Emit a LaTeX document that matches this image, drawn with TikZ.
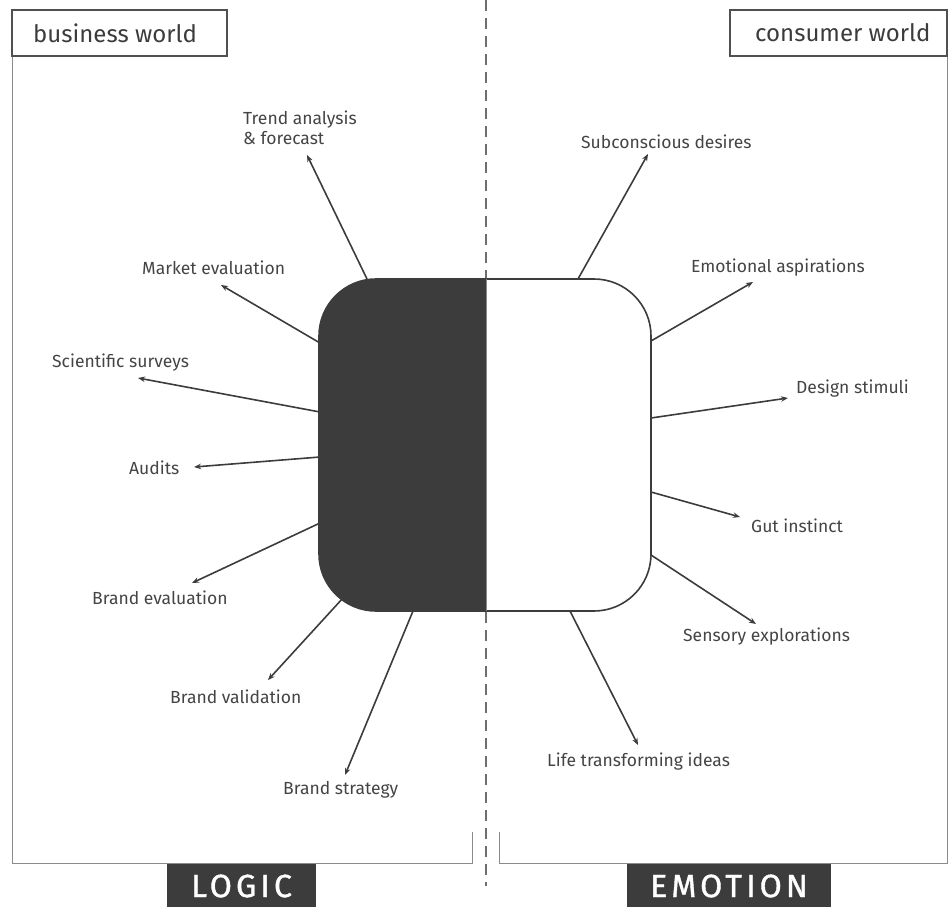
\documentclass[tikz,border=0pt]{standalone}
\usepackage{fontspec}
\setmainfont{Fira Sans}
\newfontfamily\spacedfont[LetterSpace=13,FakeBold=1.2]{Fira Sans}
\usetikzlibrary{arrows.meta}
\definecolor{darkfill}{HTML}{3C3C3C}
\definecolor{labelgray}{HTML}{444444}
\definecolor{framegray}{HTML}{8A8A8A}
\tikzset{
  lbl/.style={anchor=west, inner sep=0pt, text=labelgray, font=\fontsize{17.5}{21}\selectfont, align=left},
  ray/.style={draw=darkfill, line width=1.6pt, -{Stealth[length=7pt,width=5.5pt]}},
  worldbox/.style={draw=darkfill!90, line width=2pt, fill=white, inner sep=0pt, text=darkfill},
  worldtext/.style={anchor=west, inner sep=0pt, text=darkfill, font=\fontsize{24}{28}\selectfont},
  footbox/.style={fill=darkfill, text=white, inner sep=0pt, font=\spacedfont\fontsize{32}{36}\selectfont},
  framel/.style={draw=framegray, line width=1pt},
}
\begin{document}
\begin{tikzpicture}[x=1pt,y=-1pt]
\useasboundingbox (0,0) rectangle (950,907);
% frame
\draw[framel] (12,56) -- (12,863) -- (472,863) -- (472,832);
\draw[framel] (499,832) -- (499,863) -- (947,863) -- (947,56);
% dashed divider
\draw[framegray!80!black, line width=1.5pt, dash pattern=on 11pt off 7pt] (486,0) -- (486,886);
% world boxes
\node[worldbox, minimum width=215pt, minimum height=46pt] (bw) at (119.5,33) {};
\node[worldtext] (bwt) at (33,33) {business world};
\node[worldbox, minimum width=217pt, minimum height=46pt] (cw) at (838.5,33) {};
\node[worldtext] (cwt) at (755,33) {consumer world};
% footer boxes
\node[footbox, minimum width=149pt, minimum height=44pt] (logic) at (241.5,886) {LOGIC};
\node[footbox, minimum width=204pt, minimum height=44pt] (emotion) at (729,886) {EMOTION};
% centre shape
\begin{scope}
\clip[rounded corners=57pt] (319,279) rectangle (651,611);
\fill[white] (319,279) rectangle (651,611);
\fill[darkfill] (319,279) rectangle (486,611);
\end{scope}
\draw[darkfill, line width=1.6pt, rounded corners=57pt] (319,279) rectangle (651,611);
\draw[framegray, line width=0.6pt] (486,279) -- (486,611);
% labels
\node[lbl] (t1) at (243,128) {Trend analysis\\[-1pt]\& forecast};
\node[lbl] (t2) at (142,268) {Market evaluation};
\node[lbl] (t3) at (52,363) {Scientific surveys};
\node[lbl] (t4) at (129,468) {Audits};
\node[lbl] (t5) at (92,598) {Brand evaluation};
\node[lbl] (t6) at (170,697) {Brand validation};
\node[lbl] (t7) at (283,790) {Brand strategy};
\node[lbl] (r1) at (581,142) {Subconscious desires};
\node[lbl] (r2) at (691,268) {Emotional aspirations};
\node[lbl] (r3) at (796,389) {Design stimuli};
\node[lbl] (r4) at (751,526) {Gut instinct};
\node[lbl] (r5) at (683,637) {Sensory explorations};
\node[lbl] (r6) at (547,762) {Life transforming ideas};
% arrow coordinates
\coordinate (s1) at (367,279); \coordinate (e1) at (307,155);
\coordinate (s2) at (320,343); \coordinate (e2) at (221,285);
\coordinate (s3) at (320,412); \coordinate (e3) at (138,378);
\coordinate (s4) at (320,457); \coordinate (e4) at (194,467);
\coordinate (s5) at (320,523); \coordinate (e5) at (192,583);
\coordinate (s6) at (343,598); \coordinate (e6) at (268,680);
\coordinate (s7) at (413,611); \coordinate (e7) at (345,775);
\coordinate (q1) at (578,279); \coordinate (f1) at (648,154);
\coordinate (q2) at (651,341); \coordinate (f2) at (753,282);
\coordinate (q3) at (651,418); \coordinate (f3) at (788,398);
\coordinate (q4) at (651,492); \coordinate (f4) at (740,517);
\coordinate (q5) at (651,555); \coordinate (f5) at (756,624);
\coordinate (q6) at (570,611); \coordinate (f6) at (638,745);
\foreach \i in {1,...,7} { \draw[ray] (s\i) -- (e\i); }
\foreach \i in {1,...,6} { \draw[ray] (q\i) -- (f\i); }
\end{tikzpicture}
\end{document}
